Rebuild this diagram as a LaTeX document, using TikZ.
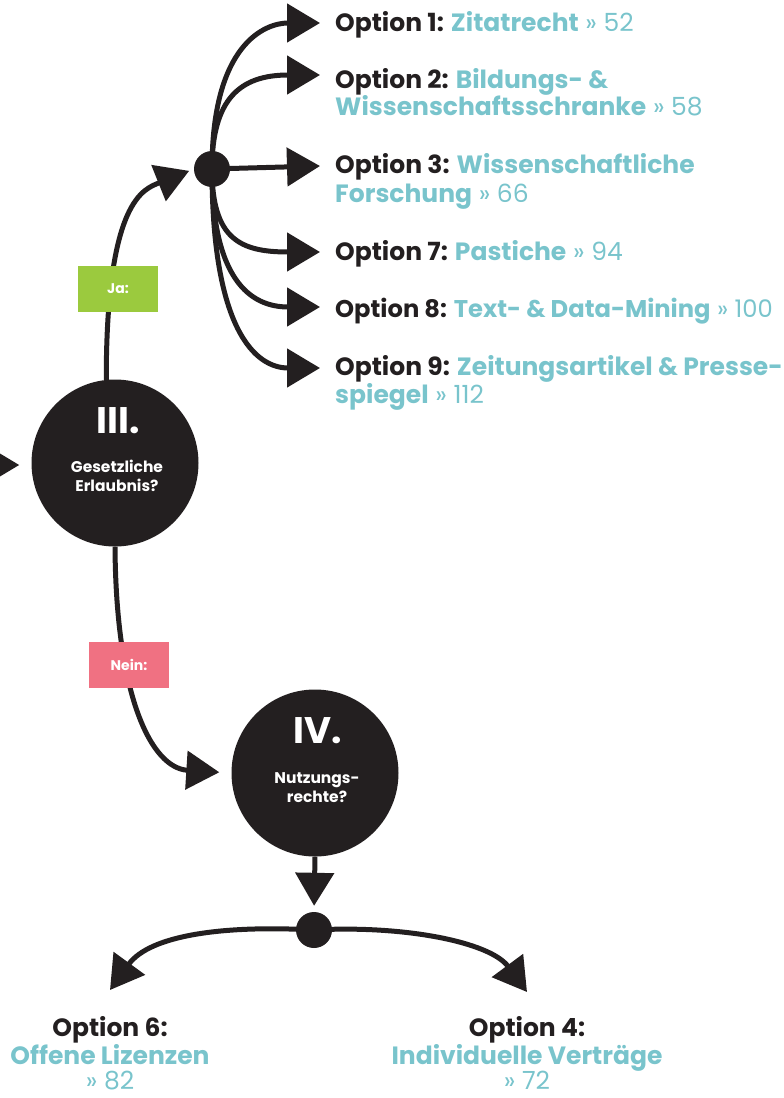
\documentclass[tikz,border=0pt]{standalone}
\usepackage{fontspec}
\setmainfont{Poppins}
\usetikzlibrary{arrows.meta}
\pgfdeclarelayer{links}
\pgfsetlayers{links,main}

\definecolor{ink}{HTML}{231F20}
\definecolor{tealtxt}{HTML}{79C4CC}
\definecolor{jagreen}{HTML}{9BCA3E}
\definecolor{neinpink}{HTML}{F07182}

\begin{document}
\begin{tikzpicture}[x=1pt,y=-1pt,
  flow/.style={line width=5pt, draw=ink, line cap=butt,
    -{Triangle[length=33pt,width=38pt]}},
  question/.style={circle, fill=ink, minimum size=167pt, inner sep=0pt},
  junction/.style={circle, fill=ink, minimum size=36pt, inner sep=0pt},
  roman/.style={text=white, font=\fontsize{37}{40}\selectfont\bfseries,
    anchor=base, inner sep=0pt},
  qtext/.style={text=white, font=\fontsize{15.5}{19}\selectfont\bfseries,
    anchor=base, inner sep=0pt},
  tag/.style={minimum width=80pt, minimum height=46pt, inner sep=0pt,
    text=white, font=\fontsize{14}{16}\selectfont\bfseries},
  option/.style={anchor=base west, inner sep=0pt, text=ink,
    font=\fontsize{25}{28}\selectfont},
  endoption/.style={anchor=base, inner sep=0pt, text=ink, text depth=0pt,
    font=\fontsize{25}{28}\selectfont},
]
\useasboundingbox (0,0) rectangle (784,1098);
\clip (0,0) rectangle (784,1098);

% decision circles and junction dots
\node[question] (c3) at (115,463) {};
\node[roman] (c3n) at ([shift={(3,-30)}]c3) {III.};
\node[qtext] (c3a) at ([shift={(2,9)}]c3) {Gesetzliche};
\node[qtext] (c3b) at ([shift={(2,28)}]c3) {Erlaubnis?};

\node[question] (c4) at (315,773) {};
\node[roman] (c4n) at ([shift={(3,-30)}]c4) {IV.};
\node[qtext] (c4a) at ([shift={(2,10)}]c4) {Nutzungs-};
\node[qtext] (c4b) at ([shift={(2,29)}]c4) {rechte?};

\node[junction] (d1) at (212,169) {};
\node[junction] (d2) at (314,930) {};

% answer tags
\node[tag, fill=jagreen] (ja) at (118,289) {Ja:};
\node[tag, fill=neinpink] (nein) at (129,665) {Nein:};

% arrow tips of the option branches
\coordinate (t1) at (320,23);
\coordinate (t2) at (320,75);
\coordinate (t3) at (320,166);
\coordinate (t4) at (320,252);
\coordinate (t5) at (320,307);
\coordinate (t6) at (320,368);
\coordinate (bl) at (110,990);
\coordinate (br) at (527,992);
\coordinate (src) at (-40,465);

% option labels, one node per printed line
\node[option] (o1) at (335,31)
  {\textbf{Option 1: \textcolor{tealtxt}{Zitatrecht}} \textcolor{tealtxt}{» 52}};
\node[option] (o2) at (335,88)
  {\textbf{Option 2: \textcolor{tealtxt}{Bildungs- \&}}};
\node[option] (o2b) at (335,115)
  {\textbf{\textcolor{tealtxt}{Wissenschaftsschranke}} \textcolor{tealtxt}{» 58}};
\node[option] (o3) at (335,173)
  {\textbf{Option 3: \textcolor{tealtxt}{Wissenschaftliche}}};
\node[option] (o3b) at (335,202)
  {\textbf{\textcolor{tealtxt}{Forschung}} \textcolor{tealtxt}{» 66}};
\node[option] (o7) at (335,260)
  {\textbf{Option 7: \textcolor{tealtxt}{Pastiche}} \textcolor{tealtxt}{» 94}};
\node[option, font=\fontsize{24.2}{28}\selectfont] (o8) at (335,317)
  {\textbf{Option 8: \textcolor{tealtxt}{Text- \& Data-Mining}} \textcolor{tealtxt}{» 100}};
\node[option] (o9) at (335,375)
  {\textbf{Option 9: \textcolor{tealtxt}{Zeitungsartikel \& Presse-}}};
\node[option] (o9b) at (335,403)
  {\textbf{\textcolor{tealtxt}{spiegel}} \textcolor{tealtxt}{» 112}};

\node[endoption] (o6) at (110,1036) {\textbf{Option 6:}};
\node[endoption] (o6b) at (110,1064) {\textbf{\textcolor{tealtxt}{Offene Lizenzen}}};
\node[endoption] (o6c) at (110,1089) {\textcolor{tealtxt}{» 82}};
\node[endoption] (o4) at (527,1036) {\textbf{Option 4:}};
\node[endoption] (o4b) at (527,1064) {\textbf{\textcolor{tealtxt}{Individuelle Verträge}}};
\node[endoption] (o4c) at (527,1089) {\textcolor{tealtxt}{» 72}};

% connectors
\begin{pgfonlayer}{links}
  \draw[flow, shorten >=12pt] (src) -- (src -| c3.west);
  \draw[flow, shorten >=5pt] (c3.96) .. controls +(0,-180) and +(-50,20) .. (d1.west);
  \draw[flow] (d1.center) .. controls +(0,-125) and +(-55,0) .. (t1);
  \draw[flow] (d1.center) .. controls +(0,-70) and +(-80,0) .. (t2);
  \draw[flow] (d1.center) -- (t3);
  \draw[flow] (d1.center) .. controls +(0,70) and +(-80,0) .. (t4);
  \draw[flow] (d1.center) .. controls +(0,110) and +(-70,0) .. (t5);
  \draw[flow] (d1.center) .. controls +(0,160) and +(-65,0) .. (t6);
  \draw[flow, shorten >=12pt] (c3.south) .. controls +(1,150) and +(-80,-5) .. (c4.west);
  \draw[flow, shorten >=6pt] (c4.south) -- (d2.north);
  \draw[flow] (d2.center) .. controls +(-90,-5) and +(40,-55) .. (bl);
  \draw[flow] (d2.center) .. controls +(90,-5) and +(-37,-50) .. (br);
\end{pgfonlayer}
\end{tikzpicture}
\end{document}
